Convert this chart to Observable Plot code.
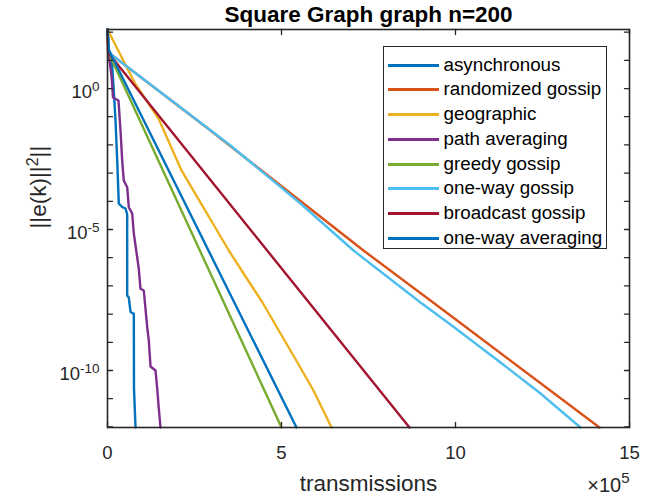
<!DOCTYPE html>
<html>
<head>
<meta charset="utf-8">
<script src="https://cdn.jsdelivr.net/npm/d3@7"></script>
<script src="https://cdn.jsdelivr.net/npm/@observablehq/plot@0.6"></script>
<style>
  body { margin: 0; background: #fff; }
  #wrap { position: relative; width: 666px; height: 499px; font-family: "Liberation Sans", Arial, Helvetica, sans-serif; }
  #legend { position: absolute; left: 383px; top: 46px; width: 222px; height: 201px; border: 1.5px solid #262626; background: #fff; }
  .item { position: absolute; left: 0; height: 24px; width: 100%; }
  .sw { position: absolute; left: 4px; width: 51px; height: 2.5px; top: 11px; }
  .lt { position: absolute; left: 59.5px; top: 0; line-height: 24px; font-size: 18.8px; color: #000; white-space: nowrap; }
</style>
</head>
<body>
<div id="wrap"><div id="chart"></div><div id="legend"></div></div>
<script>
// ---- labels ----
const titleText = "Square Graph graph n=200";
const xLabelText = "transmissions";
const yLabelText = "||e(k)||";
const yLabelSup = "2";
const yLabelTail = "||";
const xExpText = "×10";
const xExpSup = "5";

// ---- series names & colours ----
const names = ["asynchronous", "randomized gossip", "geographic", "path averaging", "greedy gossip", "one-way gossip", "broadcast gossip", "one-way averaging"];
const colors = ["#0072BD", "#D95319", "#EDB120", "#7E2F8E", "#77AC30", "#4DBEEE", "#A2142F", "#0072BD"];

// ---- ticks ----
const xTicks = [0, 5e5, 10e5, 15e5];
const yTickLabels = [1, 1e-5, 1e-10];

// ---- series values (transmissions, ||e(k)||^2) ----
const asyncX = [0, 4300, 11500, 17200, 23000, 27900, 32500, 42200, 51700, 56600, 56600, 61200, 66100, 75600, 76100, 80500];
const asyncY = [124, 22.3, 14.8, 1.28, 0.0733, 2.80e-3, 8.36e-5, 6.28e-5, 5.55e-5, 3.40e-5, 4.57e-8, 3.88e-8, 1.19e-8, 1.03e-8, 2.30e-11, 9.5e-13];

const randX = [0, 2900, 296000, 735600, 985600, 1413800];
const randY = [124, 18.9, 0.0324, 1.80e-6, 8.9e-9, 9.5e-13];

const geoX = [0, 77600, 146600, 212600, 348600, 396600, 445400, 497100, 545900, 591900, 643700];
const geoY = [124, 1.63, 0.0863, 1.24e-3, 1.80e-6, 2.15e-7, 2.58e-8, 2.05e-9, 1.92e-10, 1.95e-11, 9.5e-13];

const pathX = [0, 2900, 11500, 15800, 31600, 37400, 42200, 46800, 56600, 61200, 71000, 75600, 85300, 89900, 94800, 104300, 109200, 114100, 118700, 123600, 137900, 142800, 147400, 152300];
const pathY = [124, 18.9, 2.89, 0.48, 0.375, 0.0324, 2.80e-3, 5.47e-4, 3.16e-4, 6.18e-5, 3.69e-5, 7.21e-6, 1.04e-6, 4.04e-7, 7.89e-8, 6.87e-8, 1.54e-8, 3.43e-9, 1.16e-9, 1.39e-10, 1.0e-10, 2.30e-11, 4.49e-12, 9.5e-13];

const greedyX = [0, 2900, 500000];
const greedyY = [124, 18.9, 9.5e-13];

const owgX = [0, 2900, 353400, 554600, 706900, 899400, 985600, 1129300, 1244300, 1359200];
const owgY = [124, 18.9, 9.52e-3, 8.36e-5, 1.80e-6, 2.58e-8, 4.28e-9, 1.92e-10, 1.53e-11, 9.5e-13];

const bcastX = [0, 1400, 867800];
const bcastY = [124, 18.9, 9.5e-13];

const owaX = [0, 4300, 543100];
const owaY = [124, 22.3, 9.5e-13];

// ---- build table ----
const seriesX = [asyncX, randX, geoX, pathX, greedyX, owgX, bcastX, owaX];
const seriesY = [asyncY, randY, geoY, pathY, greedyY, owgY, bcastY, owaY];
const rows = names.flatMap((n, i) => seriesX[i].map((x, j) => ({name: n, x, y: seriesY[i][j]})));

const yDomain = d3.extent(rows, d => d.y);
const decades = d3.range(-13, 4).map(e => Math.pow(10, e)).filter(v => v >= yDomain[0] && v <= yDomain[1]);

const axisColor = "#262626";
const tickShape = {draw(ctx, l) { ctx.moveTo(0, 0); ctx.lineTo(0, -l); }};
const tickOpts = {length: 5, anchor: "start", shape: tickShape, stroke: axisColor, strokeWidth: 1.3};

const chart = Plot.plot({
  width: 666,
  height: 499,
  marginTop: 29,
  marginBottom: 72,
  marginLeft: 107,
  marginRight: 37,
  style: {fontFamily: '"Liberation Sans", Arial, Helvetica, sans-serif', fontSize: "18.5px", color: axisColor, background: "white"},
  x: {domain: d3.extent(xTicks)},
  y: {type: "log", domain: yDomain},
  color: {domain: names, range: colors},
  marks: [
    Plot.line(rows, {x: "x", y: "y", z: "name", stroke: "name", strokeWidth: 2.4, strokeLinejoin: "round"}),
    Plot.frame({stroke: axisColor, strokeWidth: 1.6}),
    Plot.vector(decades, {y: d => d, frameAnchor: "left", rotate: 90, ...tickOpts}),
    Plot.vector(decades, {y: d => d, frameAnchor: "right", rotate: -90, ...tickOpts}),
    Plot.vector(xTicks, {x: d => d, frameAnchor: "bottom", rotate: 0, ...tickOpts}),
    Plot.vector(xTicks, {x: d => d, frameAnchor: "top", rotate: 180, ...tickOpts}),
    Plot.axisX({ticks: xTicks, tickSize: 0, tickPadding: 18, tickFormat: d => String(d / 1e5), label: null, fontSize: 18.5, fill: axisColor}),
    Plot.axisY({ticks: yTickLabels, tickSize: 0, tickPadding: 8, tickFormat: d => String(Math.round(Math.log10(d))), label: null, fontSize: 18.5, dy: 4, fill: axisColor}),
    Plot.text([titleText], {frameAnchor: "top", dy: -15, lineAnchor: "middle", fontWeight: "bold", fontSize: 22.5, fill: "#000"}),
    Plot.text([xLabelText], {frameAnchor: "bottom", dy: 56, lineAnchor: "middle", fontSize: 22.5, fill: axisColor}),
    Plot.text([yLabelText], {frameAnchor: "left", dx: -69, rotate: -90, lineAnchor: "middle", fontSize: 22.5, fill: axisColor}),
    Plot.text([xExpText], {frameAnchor: "bottom-right", dy: 58, textAnchor: "end", lineAnchor: "middle", fontSize: 20, fill: axisColor})
  ]
});

document.getElementById("chart").appendChild(chart);

// superscripts
const svg = d3.select(chart);
svg.selectAll('g[aria-label="y-axis tick label"] text').each(function () {
  const e = this.textContent;
  this.textContent = "10";
  d3.select(this).append("tspan").attr("dy", -7).attr("font-size", 13.5).text(e);
});
svg.selectAll("text").filter(function () { return this.textContent === yLabelText; }).each(function () {
  const t = d3.select(this);
  t.append("tspan").attr("dy", -8).attr("font-size", 16).text(yLabelSup);
  t.append("tspan").attr("dy", 8).text(yLabelTail);
});
svg.selectAll("text").filter(function () { return this.textContent === xExpText; }).each(function () {
  const t = d3.select(this);
  t.append("tspan").attr("dy", -9).attr("font-size", 15).text(xExpSup);
});

// legend
const legend = d3.select("#legend");
names.forEach((n, i) => {
  const row = legend.append("div").attr("class", "item").style("top", Math.round(5.5 + i * 24.76) + "px");
  row.append("span").attr("class", "sw").style("background", colors[i]);
  row.append("span").attr("class", "lt").text(n);
});
</script>
</body>
</html>
